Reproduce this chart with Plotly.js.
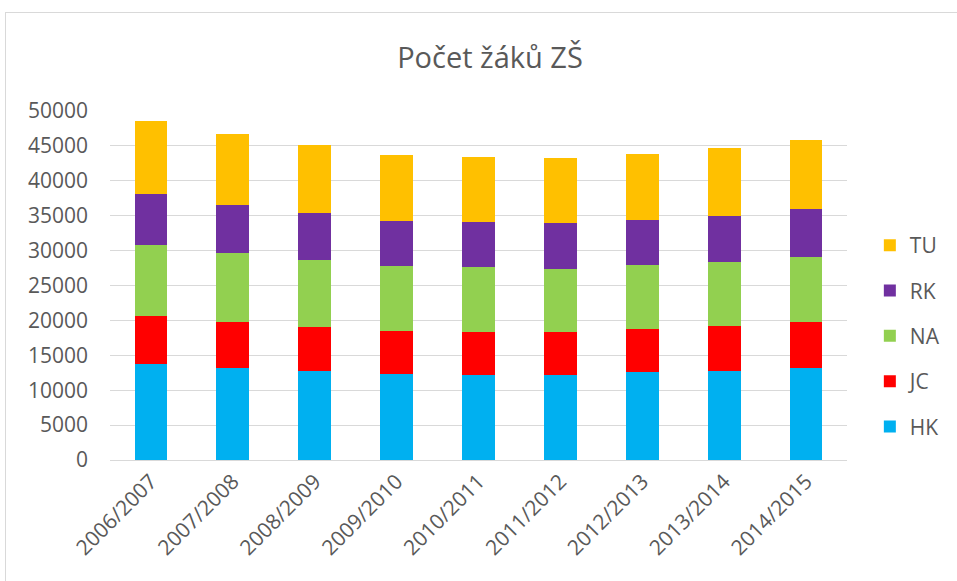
<!DOCTYPE html>
<html>
<head>
<meta charset="utf-8">
<script src="https://cdn.plot.ly/plotly-3.0.1.min.js"></script>
<style>
  html, body { margin: 0; padding: 0; background: #fff; overflow: hidden; }
  #chart { width: 957px; height: 581px; }
  #frame { position: absolute; left: 5px; top: 12px; width: 1200px; height: 1200px;
           border: 1px solid #d9d9d9; pointer-events: none; }
</style>
</head>
<body>
<div id="chart"></div>
<div id="frame"></div>
<script>
const years = ["2006/2007","2007/2008","2008/2009","2009/2010","2010/2011","2011/2012","2012/2013","2013/2014","2014/2015"];
const HK = [13780, 13250, 12730, 12340, 12250, 12250, 12540, 12820, 13250];
const JC = [6790, 6510, 6360, 6080, 6030, 6030, 6170, 6320, 6510];
const NA = [10290, 9910, 9620, 9380, 9320, 9140, 9180, 9190, 9380];
const RK = [7180, 6930, 6650, 6460, 6470, 6500, 6560, 6650, 6790];
const TU = [10570, 10100, 9710, 9380, 9330, 9330, 9430, 9710, 9910];
const yTicks = [0,5000,10000,15000,20000,25000,30000,35000,40000,45000,50000];

const series = [
  {name: "HK", y: HK, color: "#00b0f0"},
  {name: "JC", y: JC, color: "#ff0000"},
  {name: "NA", y: NA, color: "#92d050"},
  {name: "RK", y: RK, color: "#7030a0"},
  {name: "TU", y: TU, color: "#ffc000"}
];

const traces = series.map((s, i) => ({
  type: "bar", x: years, y: s.y, name: s.name, legendgroup: s.name,
  legendrank: 1000 - i,
  marker: {color: s.color, line: {width: 0}},
  hoverinfo: "x+y+name"
}));

const font = "'Open Sans', 'Noto Sans', sans-serif";
const layout = {
  width: 957, height: 581,
  barmode: "stack", bargap: 0.6,
  paper_bgcolor: "#ffffff", plot_bgcolor: "#ffffff",
  margin: {l: 110, r: 105, t: 111, b: 121},
  font: {family: font, color: "#595959", size: 21},
  title: {text: "Počet žáků ZŠ", font: {family: font, size: 29, color: "#595959"},
          xref: "container", x: 0.512, xanchor: "center",
          yref: "container", y: 0.9, yanchor: "middle"},
  xaxis: {tickangle: -45, tickfont: {size: 21, color: "#595959"}, showgrid: false,
          showline: true, linecolor: "#d9d9d9", linewidth: 1, ticks: "", fixedrange: true},
  yaxis: {range: [0, 50000], tickvals: yTicks, ticktext: yTicks.map(String),
          tickfont: {size: 21, color: "#595959"}, showgrid: true, gridcolor: "#d9d9d9",
          gridwidth: 1, zeroline: false, showline: false, ticks: "", ticklabelstandoff: 21,
          fixedrange: true},
  showlegend: true,
  legend: {x: 1.031, xanchor: "left", y: 0.355, yanchor: "middle",
           traceorder: "grouped", tracegroupgap: 15,
           font: {size: 21, color: "#595959"}, bgcolor: "rgba(0,0,0,0)"}
};

Plotly.newPlot("chart", traces, layout, {displayModeBar: false, staticPlot: true});
</script>
</body>
</html>
